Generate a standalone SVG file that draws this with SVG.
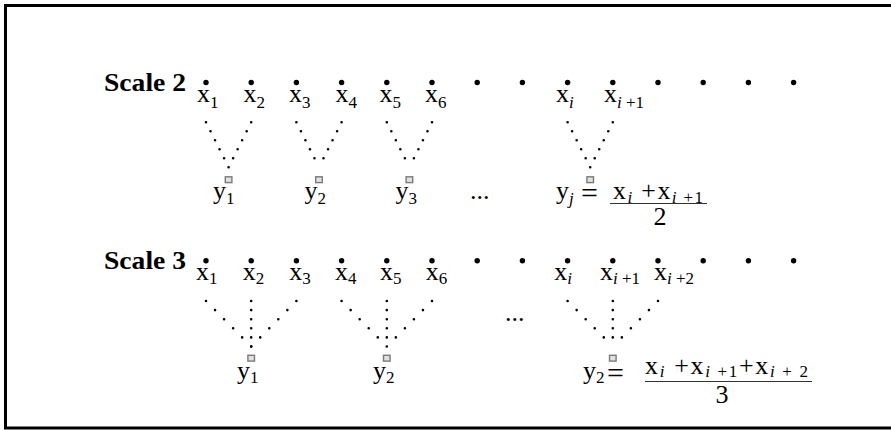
<svg xmlns="http://www.w3.org/2000/svg" width="891" height="430" viewBox="0 0 891 430">
<style>
text{font-family:"Liberation Serif","Times New Roman",serif;fill:#000}
.m{font-size:26px}
.h{font-size:25px;font-weight:bold}
.s{font-size:17px}
.si{font-size:17px;font-style:italic}
.big{font-size:30px}
.dot{fill:#000}
.arm{stroke:#000;stroke-width:2.6;stroke-linecap:round;stroke-dasharray:0 1;fill:none}
.sq{fill:#e0e0e0;stroke:#7a7a7a;stroke-width:1.4}
.fl{stroke:#333;stroke-width:1}
</style>
<rect x="5.5" y="5.5" width="900" height="422.5" fill="#fff" stroke="#000" stroke-width="3"/>

<!-- Scale 2 -->
<g id="scale2-label"><text class="h" x="104" y="91" textLength="82" lengthAdjust="spacingAndGlyphs">Scale 2</text></g>
<g id="scale2-points">
<circle class="dot" cx="206" cy="82.5" r="2.7"/><circle class="dot" cx="251.2" cy="82.5" r="2.7"/><circle class="dot" cx="296.4" cy="82.5" r="2.7"/><circle class="dot" cx="341.6" cy="82.5" r="2.7"/><circle class="dot" cx="386.8" cy="82.5" r="2.7"/><circle class="dot" cx="432" cy="82.5" r="2.7"/><circle class="dot" cx="477.2" cy="82.5" r="2.7"/><circle class="dot" cx="522.4" cy="82.5" r="2.7"/><circle class="dot" cx="567.6" cy="82.5" r="2.7"/><circle class="dot" cx="612.8" cy="82.5" r="2.7"/><circle class="dot" cx="658" cy="82.5" r="2.7"/><circle class="dot" cx="703.2" cy="82.5" r="2.7"/><circle class="dot" cx="748.4" cy="82.5" r="2.7"/><circle class="dot" cx="793.6" cy="82.5" r="2.7"/>
</g>
<g id="s2-x1"><text class="m" x="197" y="101.5">x<tspan class="s" dy="6">1</tspan></text></g>
<g id="s2-x2"><text class="m" x="243.5" y="101.5">x<tspan class="s" dy="6">2</tspan></text></g>
<g id="s2-x3"><text class="m" x="289" y="101.5">x<tspan class="s" dy="6">3</tspan></text></g>
<g id="s2-x4"><text class="m" x="335.5" y="101.5">x<tspan class="s" dy="6">4</tspan></text></g>
<g id="s2-x5"><text class="m" x="379.5" y="101.5">x<tspan class="s" dy="6">5</tspan></text></g>
<g id="s2-x6"><text class="m" x="425" y="101.5">x<tspan class="s" dy="6">6</tspan></text></g>
<g id="s2-xi"><text class="m" x="556" y="101.5">x<tspan class="si" dy="6">i</tspan></text></g>
<g id="s2-xi1"><text class="m" x="604" y="101.5">x<tspan class="si" dy="6">i</tspan><tspan class="s"> +1</tspan></text></g>

<g id="s2-y1"><rect class="sq" x="225.3" y="176.8" width="6.6" height="5.8"/><text class="m" x="213" y="199">y<tspan class="s" dy="4.5">1</tspan></text></g>
<g id="s2-y2"><rect class="sq" x="315.7" y="176.8" width="6.6" height="5.8"/><text class="m" x="304.5" y="199">y<tspan class="s" dy="4.5">2</tspan></text></g>
<g id="s2-y3"><rect class="sq" x="406.1" y="176.8" width="6.6" height="5.8"/><text class="m" x="395.5" y="199">y<tspan class="s" dy="4.5">3</tspan></text></g>
<g id="s2-ellipsis"><text class="m" x="470" y="199">...</text></g>
<g id="s2-yj"><rect class="sq" x="586.9" y="176.8" width="6.6" height="5.8"/>
<text class="m" x="556" y="199">y<tspan class="si" dy="4.5">j</tspan></text>
<text class="big" x="581" y="203">=</text>
<text class="m" x="613" y="198.5" textLength="90" lengthAdjust="spacing">x<tspan class="si" dy="4">i</tspan><tspan dy="-4"> +x</tspan><tspan class="si" dy="4">i</tspan><tspan class="s"> +1</tspan></text>
<line class="fl" x1="610" y1="203.5" x2="707" y2="203.5"/>
<text class="m" x="660" y="225" text-anchor="middle">2</text>
</g>

<!-- Scale 3 -->
<g id="scale3-label"><text class="h" x="104" y="268.5" textLength="82" lengthAdjust="spacingAndGlyphs">Scale 3</text></g>
<g id="scale3-points">
<circle class="dot" cx="206" cy="260.7" r="2.7"/><circle class="dot" cx="251.2" cy="260.7" r="2.7"/><circle class="dot" cx="296.4" cy="260.7" r="2.7"/><circle class="dot" cx="341.6" cy="260.7" r="2.7"/><circle class="dot" cx="386.8" cy="260.7" r="2.7"/><circle class="dot" cx="432" cy="260.7" r="2.7"/><circle class="dot" cx="477.2" cy="260.7" r="2.7"/><circle class="dot" cx="522.4" cy="260.7" r="2.7"/><circle class="dot" cx="567.6" cy="260.7" r="2.7"/><circle class="dot" cx="612.8" cy="260.7" r="2.7"/><circle class="dot" cx="658" cy="260.7" r="2.7"/><circle class="dot" cx="703.2" cy="260.7" r="2.7"/><circle class="dot" cx="748.4" cy="260.7" r="2.7"/><circle class="dot" cx="793.6" cy="260.7" r="2.7"/>
</g>
<g id="s3-x1"><text class="m" x="196" y="280">x<tspan class="s" dy="3.5">1</tspan></text></g>
<g id="s3-x2"><text class="m" x="242.7" y="280">x<tspan class="s" dy="3.5">2</tspan></text></g>
<g id="s3-x3"><text class="m" x="289.3" y="280">x<tspan class="s" dy="3.5">3</tspan></text></g>
<g id="s3-x4"><text class="m" x="335" y="280">x<tspan class="s" dy="3.5">4</tspan></text></g>
<g id="s3-x5"><text class="m" x="380" y="280">x<tspan class="s" dy="3.5">5</tspan></text></g>
<g id="s3-x6"><text class="m" x="425.7" y="280">x<tspan class="s" dy="3.5">6</tspan></text></g>
<g id="s3-xi"><text class="m" x="554.3" y="280">x<tspan class="si" dy="3.5">i</tspan></text></g>
<g id="s3-xi1"><text class="m" x="600" y="280">x<tspan class="si" dy="3.5">i</tspan><tspan class="s"> +1</tspan></text></g>
<g id="s3-xi2"><text class="m" x="654" y="280">x<tspan class="si" dy="3.5">i</tspan><tspan class="s"> +2</tspan></text></g>

<g id="s3-y1"><rect class="sq" x="247.9" y="355.3" width="6.6" height="5.8"/><text class="m" x="237" y="379">y<tspan class="s" dy="3.5">1</tspan></text></g>
<g id="s3-y2"><rect class="sq" x="383.5" y="355.3" width="6.6" height="5.8"/><text class="m" x="373" y="379">y<tspan class="s" dy="3.5">2</tspan></text></g>
<g id="s3-ellipsis"><text class="m" x="505" y="321">...</text></g>
<g id="s3-y2b"><rect class="sq" x="609.5" y="355.3" width="6.6" height="5.8"/>
<text class="m" x="583" y="379">y<tspan class="s" dy="3.5">2</tspan></text>
<text class="big" x="607" y="383">=</text>
<text class="m" x="645" y="373.5" textLength="163" lengthAdjust="spacing">x<tspan class="si" dy="3">i</tspan><tspan dy="-3"> +x</tspan><tspan class="si" dy="3">i</tspan><tspan class="s"> +1</tspan><tspan dy="-3">+x</tspan><tspan class="si" dy="3">i</tspan><tspan class="s"> + 2</tspan></text>
<line class="fl" x1="645" y1="381.5" x2="812" y2="381.5"/>
<text class="m" x="722" y="403" text-anchor="middle">3</text>
</g>

<g id="connectors">
<!-- Scale 2 V shapes -->
<line class="arm" pathLength="5" x1="206" y1="122.3" x2="228.6" y2="167.3"/><line class="arm" pathLength="5" x1="251.2" y1="122.3" x2="228.6" y2="167.3"/>
<line class="arm" pathLength="5" x1="296.4" y1="122.3" x2="319" y2="167.3"/><line class="arm" pathLength="5" x1="341.6" y1="122.3" x2="319" y2="167.3"/>
<line class="arm" pathLength="5" x1="386.8" y1="122.3" x2="409.4" y2="167.3"/><line class="arm" pathLength="5" x1="432" y1="122.3" x2="409.4" y2="167.3"/>
<line class="arm" pathLength="5" x1="567.6" y1="122.3" x2="590.2" y2="167.3"/><line class="arm" pathLength="5" x1="612.8" y1="122.3" x2="590.2" y2="167.3"/>
<!-- Scale 3 W shapes -->
<line class="arm" pathLength="5" x1="206" y1="301" x2="251.2" y2="346.5"/><line class="arm" pathLength="5" x1="251.2" y1="301" x2="251.2" y2="346.5"/><line class="arm" pathLength="5" x1="296.4" y1="301" x2="251.2" y2="346.5"/>
<line class="arm" pathLength="5" x1="341.6" y1="301" x2="386.8" y2="346.5"/><line class="arm" pathLength="5" x1="386.8" y1="301" x2="386.8" y2="346.5"/><line class="arm" pathLength="5" x1="432" y1="301" x2="386.8" y2="346.5"/>
<line class="arm" pathLength="5" x1="567.6" y1="301" x2="612.8" y2="346.5"/><line class="arm" pathLength="5" x1="612.8" y1="301" x2="612.8" y2="346.5"/><line class="arm" pathLength="5" x1="658" y1="301" x2="612.8" y2="346.5"/>
</g>
</svg>
